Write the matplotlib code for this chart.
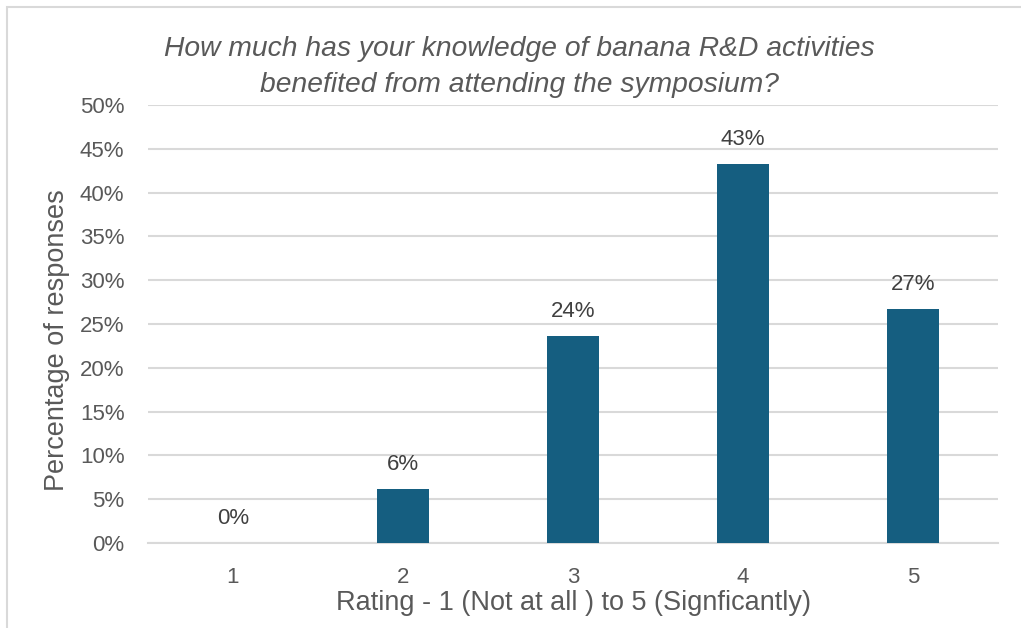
import matplotlib.pyplot as plt
from matplotlib.patches import Rectangle

# Survey data
ratings = ['1', '2', '3', '4', '5']
percent = [0.0, 6.2, 23.6, 43.3, 26.7]
labels = ['0%', '6%', '24%', '43%', '27%']
yticks = [0, 5, 10, 15, 20, 25, 30, 35, 40, 45, 50]

plt.rcParams['font.family'] = ['Liberation Sans', 'DejaVu Sans']
grey = '#595959'

fig = plt.figure(figsize=(10.21, 6.28), dpi=100)
ax = fig.add_axes([148/1021, 1 - 543/628, 850/1021, 438/628])

x = range(len(ratings))
ax.bar(x, percent, width=0.31, color='#155E80', zorder=3)

for i, (v, t) in enumerate(zip(percent, labels)):
    ax.text(i, v + 2.8, t, ha='center', va='center', fontsize=16, color='#404040')

ax.set_xlim(-0.5, 4.5)
ax.set_ylim(0, 50)
ax.set_yticks(yticks)
ax.set_yticklabels([f'{t}%' for t in yticks])
ax.set_xticks(list(x))
ax.set_xticklabels(ratings)
ax.tick_params(axis='both', length=0, labelsize=16, labelcolor=grey)
ax.tick_params(axis='x', pad=17)
ax.tick_params(axis='y', pad=17)
ax.grid(axis='y', color='#D9D9D9', linewidth=1.5, zorder=0)
for s in ['top', 'right', 'left']:
    ax.spines[s].set_visible(False)
ax.spines['bottom'].set_color('#D9D9D9')
ax.spines['bottom'].set_linewidth(1.5)

ax.set_xlabel('Rating - 1 (Not at all ) to 5 (Signficantly)', fontsize=19.5, color=grey, labelpad=1.5)
ax.set_ylabel('Percentage of responses', fontsize=19.5, color=grey)
ax.yaxis.set_label_coords(-0.092, 0.463)

fig.text(0.509, 1 - 67/628, 'How much has your knowledge of banana R&D activities\nbenefited from attending the symposium?',
         ha='center', va='center', fontsize=20.3, style='italic', color=grey, linespacing=1.55)

# light border around the chart area
fig.patches.append(Rectangle((7/1021, -0.01), 1.02, 1 - 7/628 + 0.01, transform=fig.transFigure,
                             fill=False, edgecolor='#D9D9D9', linewidth=1.5))

fig.savefig('out.png', dpi=100)
